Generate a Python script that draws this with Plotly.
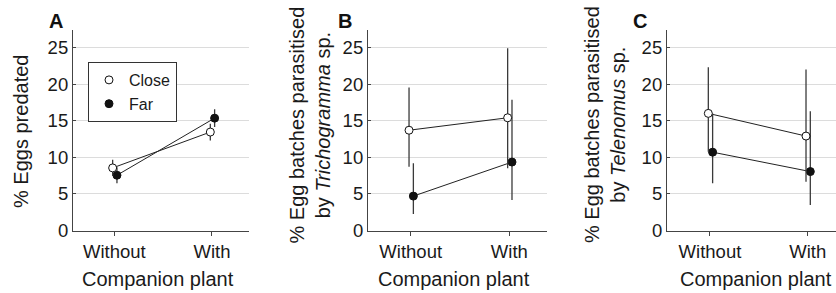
import plotly.graph_objects as go

# ---------------- data ----------------
categories = ["Without", "With"]
cat_pos = [0, 1]

# Panel A: % eggs predated
a_close = [8.55, 13.45]
a_close_err = [1.1, 1.15]
a_far = [7.55, 15.35]
a_far_err = [1.1, 1.2]

# Panel B: % egg batches parasitised by Trichogramma sp.
b_close = [13.7, 15.4]
b_close_up = [19.55, 24.9]
b_close_lo = [8.7, 8.5]
b_far = [4.7, 9.35]
b_far_up = [9.2, 17.85]
b_far_lo = [2.25, 4.15]

# Panel C: % egg batches parasitised by Telenomus sp.
c_close = [16.0, 12.9]
c_close_up = [22.3, 22.0]
c_close_lo = [10.75, 6.65]
c_far = [10.7, 8.05]
c_far_up = [16.0, 16.3]
c_far_lo = [6.45, 3.5]

y_ticks = [0, 5, 10, 15, 20, 25]

# ---------------- style ----------------
W, H = 836, 293
FONT = "Liberation Sans, Arial, sans-serif"
DARK = "#222222"
ERR = "#3a3a3a"
GRID = "#dcdcdc"
AX = "#444444"
off_close, off_far = -0.017, 0.027


def px(x):
    return x / W


def py(y):
    return 1 - y / H


fig = go.Figure()

panels = [
    dict(close=a_close, cup=[v + e for v, e in zip(a_close, a_close_err)],
         clo=[v - e for v, e in zip(a_close, a_close_err)],
         far=a_far, fup=[v + e for v, e in zip(a_far, a_far_err)],
         flo=[v - e for v, e in zip(a_far, a_far_err)]),
    dict(close=b_close, cup=b_close_up, clo=b_close_lo,
         far=b_far, fup=b_far_up, flo=b_far_lo),
    dict(close=c_close, cup=c_close_up, clo=c_close_lo,
         far=c_far, fup=c_far_up, flo=c_far_lo),
]

for i, p in enumerate(panels):
    xa = "x" if i == 0 else f"x{i+1}"
    ya = "y" if i == 0 else f"y{i+1}"
    show = (i == 0)
    xs_far = [c + off_far for c in cat_pos]
    xs_close = [c + off_close for c in cat_pos]
    # connecting lines
    for xs, ys in [(xs_far, p["far"]), (xs_close, p["close"])]:
        fig.add_trace(go.Scatter(x=xs, y=ys, mode="lines", showlegend=False,
                                 line=dict(color=DARK, width=1),
                                 hoverinfo="skip", xaxis=xa, yaxis=ya))
    # Far (filled)
    fig.add_trace(go.Scatter(
        x=xs_far, y=p["far"], mode="markers",
        name="Far", legendrank=2, showlegend=show,
        marker=dict(symbol="circle", size=8, color="#111111",
                    line=dict(color="#111111", width=1)),
        error_y=dict(type="data", symmetric=False,
                     array=[u - v for u, v in zip(p["fup"], p["far"])],
                     arrayminus=[v - l for v, l in zip(p["far"], p["flo"])],
                     width=0, thickness=1.3, color=ERR),
        xaxis=xa, yaxis=ya))
    # Close (open)
    fig.add_trace(go.Scatter(
        x=xs_close, y=p["close"], mode="markers",
        name="Close", legendrank=1, showlegend=show,
        marker=dict(symbol="circle", size=8, color="white",
                    line=dict(color="#111111", width=1)),
        error_y=dict(type="data", symmetric=False,
                     array=[u - v for u, v in zip(p["cup"], p["close"])],
                     arrayminus=[v - l for v, l in zip(p["close"], p["clo"])],
                     width=0, thickness=1.3, color=ERR),
        xaxis=xa, yaxis=ya))

y_top_px, y_zero_px = 30, 230.5
y_max = (y_zero_px - y_top_px) / 7.32
ydom = [py(y_zero_px), py(y_top_px)]

x_doms = [[px(73), px(249)], [px(368), px(547)], [px(667), 1.0]]
x_ranges = [[-0.423, 1.379], [-0.433, 1.382], [-0.44, 1.29]]

tickfont = dict(family=FONT, size=18.5, color="#1a1a1a")
layout = dict(
    width=W, height=H,
    margin=dict(l=0, r=0, t=0, b=0, pad=0, autoexpand=False),
    paper_bgcolor="white", plot_bgcolor="white",
    font=dict(family=FONT, color="#1a1a1a"),
    showlegend=True,
    legend=dict(x=px(88), y=py(62), xanchor="left", yanchor="top",
                bordercolor="#333333", borderwidth=1, bgcolor="white",
                font=dict(family=FONT, size=16), tracegroupgap=0,
                itemwidth=30, traceorder="normal"),
)
for i in range(3):
    xk = "xaxis" if i == 0 else f"xaxis{i+1}"
    yk = "yaxis" if i == 0 else f"yaxis{i+1}"
    ya = "y" if i == 0 else f"y{i+1}"
    xa = "x" if i == 0 else f"x{i+1}"
    layout[xk] = dict(domain=x_doms[i], range=x_ranges[i], anchor=ya,
                      tickmode="array", tickvals=cat_pos, ticktext=categories,
                      showgrid=False, zeroline=False, showline=True,
                      linecolor=AX, linewidth=1.2, ticks="outside", ticklen=4,
                      tickcolor=AX, tickfont=tickfont, fixedrange=True,
                      automargin=False)
    layout[yk] = dict(domain=ydom, range=[0, y_max], anchor=xa,
                      tickmode="array", tickvals=y_ticks,
                      showgrid=True, gridcolor=GRID, gridwidth=1,
                      zeroline=False, showline=True, linecolor=AX, linewidth=1.2,
                      ticks="inside", ticklen=3, tickcolor=AX,
                      tickfont=tickfont, fixedrange=True, automargin=False)

fig.update_layout(**layout)

ann = []
title_font = dict(family=FONT, size=20, color="#1a1a1a")
# y-axis titles
ann.append(dict(text="% Eggs predated", x=px(21), y=py(132), textangle=-90))
ann.append(dict(text="% Egg batches parasitised<br>by <i>Trichogramma</i> sp.",
                x=px(309.5), y=py(125), textangle=-90))
ann.append(dict(text="% Egg batches parasitised<br>by <i>Telenomus</i> sp.",
                x=px(605), y=py(125), textangle=-90))
# x-axis titles
for cx in [158, 454, 756]:
    ann.append(dict(text="Companion plant", x=px(cx), y=py(279)))
annotations = []
for a in ann:
    a.update(xref="paper", yref="paper", xanchor="center", yanchor="middle",
             showarrow=False, font=title_font)
    annotations.append(a)
# panel letters
for letter, cx in [("A", 55.5), ("B", 345), ("C", 640)]:
    annotations.append(dict(text=f"<b>{letter}</b>", x=px(cx), y=py(21.5),
                            xref="paper", yref="paper", xanchor="center",
                            yanchor="middle", showarrow=False,
                            font=dict(family=FONT, size=20, color="#111111")))
fig.update_layout(annotations=annotations)

post = (
    "document.body.style.margin='0';"
    "document.body.style.overflow='hidden';"
    "document.documentElement.style.overflow='hidden';"
    "var gd=document.getElementById('{plot_id}');"
    "gd.style.position='fixed';gd.style.left='0px';gd.style.top='0px';"
)
fig.write_html("out.html", config={"displayModeBar": False}, post_script=post)
